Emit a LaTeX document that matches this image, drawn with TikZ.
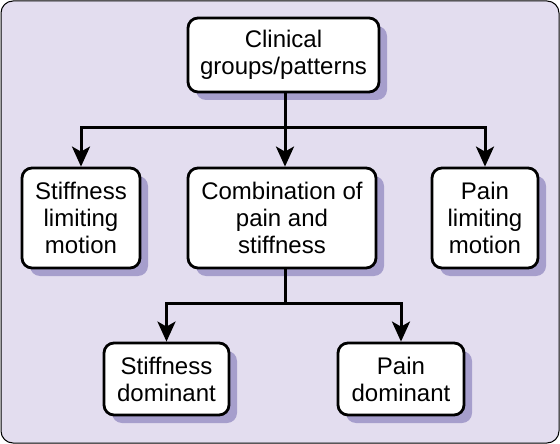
\documentclass[tikz,border=0pt]{standalone}
\usepackage{fontspec}
\setmainfont{Liberation Sans}
\usetikzlibrary{arrows.meta}
\definecolor{bgc}{HTML}{E3DDEF}
\definecolor{shc}{HTML}{A69ECC}
\tikzset{
  box/.style={draw=black, line width=2.8pt, fill=white, rounded corners=10pt, align=center,
    font=\fontsize{24}{27}\selectfont, inner sep=0pt},
  conn/.style={line width=3pt, black},
  arr/.style={conn, -{Stealth[length=20pt,width=18pt,inset=5pt]}},
}
\newcommand{\mybox}[6]{%
  \fill[shc, rounded corners=10pt] (#2+8,#3+8) rectangle (#4+8,#5+8);
  \node[box, minimum width=#4-#2, minimum height=#5-#3] (#1) at ({(#2+#4)/2},{(#3+#5)/2}) {#6};
}
\begin{document}
\begin{tikzpicture}[x=1pt,y=-1pt]
\useasboundingbox (0,0) rectangle (560,444);
\draw[fill=bgc, line width=1pt, rounded corners=12pt] (1,1) rectangle (559,443);
\mybox{top}{188}{18}{379}{92}{Clinical\\groups/patterns}
\mybox{slm}{22}{168}{140}{268}{Stiffness\\limiting\\motion}
\mybox{comb}{188}{168}{376}{268}{Combination of\\pain and\\stiffness}
\mybox{plm}{432}{168}{538}{268}{Pain\\limiting\\motion}
\mybox{sd}{104}{343}{229}{415}{Stiffness\\dominant}
\mybox{pd}{338}{343}{464}{415}{Pain\\dominant}
\coordinate (j1) at (285,127);
\coordinate (j2) at (285,303);
\draw[conn] (top.south -| j1) -- (j1);
\draw[arr] (j1) -| (slm.north);
\draw[arr] (j1) -| (plm.north);
\draw[arr] (j1) -- (comb.north -| j1);
\draw[conn] (comb.south -| j2) -- (j2);
\draw[arr] (j2) -| (sd.north);
\draw[arr] (j2) -| (pd.north);
\end{tikzpicture}
\end{document}
